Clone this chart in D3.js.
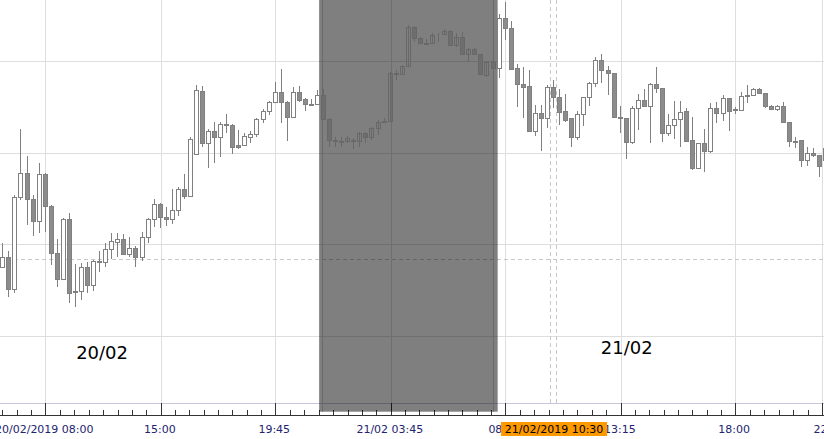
<!DOCTYPE html>
<html>
<head>
<meta charset="utf-8">
<script src="https://cdn.jsdelivr.net/npm/d3@7"></script>
<style>
  body { margin: 0; background: #fff; }
  svg { display: block; font-family: "DejaVu Sans", Verdana, sans-serif; }
</style>
</head>
<body>
<svg id="chart" width="824" height="439"></svg>
<script>
// 15 min candles, 20/02/2019 - 21/02/2019
var open = [
  1.13475,1.13486,1.13451,1.13551,1.13578,1.13549,1.13525,1.13576,1.13541,1.13490,
  1.13462,1.13527,1.13449,1.13449,1.13475,1.13455,1.13481,1.13480,1.13494,1.13502,
  1.13505,1.13489,1.13496,1.13486,1.13508,1.13527,1.13544,1.13529,1.13527,1.13537,
  1.13560,1.13552,1.13598,1.13667,1.13610,1.13623,1.13617,1.13631,1.13630,1.13608,
  1.13608,1.13617,1.13620,1.13637,1.13645,1.13655,1.13666,1.13655,1.13639,1.13666,
  1.13658,1.13653,1.13653,1.13663,1.13637,1.13614,1.13613,1.13613,1.13614,1.13613,
  1.13621,1.13617,1.13627,1.13634,1.13634,1.13687,1.13686,1.13695,1.13737,1.13725,
  1.13720,1.13720,1.13730,1.13730,1.13733,1.13718,1.13726,1.13708,1.13713,1.13708,
  1.13685,1.13699,1.13692,1.13747,1.13736,1.13692,1.13675,1.13673,1.13623,1.13643,
  1.13638,1.13672,1.13661,1.13645,1.13638,1.13617,1.13642,1.13661,1.13676,1.13701,
  1.13690,1.13687,1.13639,1.13638,1.13611,1.13649,1.13657,1.13651,1.13675,1.13670,
  1.13621,1.13630,1.13637,1.13645,1.13614,1.13583,1.13610,1.13602,1.13649,1.13643,
  1.13660,1.13648,1.13646,1.13662,1.13663,1.13669,1.13665,1.13651,1.13648,1.13651,
  1.13633,1.13613,1.13614,1.13592,1.13599,1.13597,1.13592
];
var high = [
  1.13501,1.13492,1.13554,1.13626,1.13596,1.13554,1.13588,1.13578,1.13543,1.13505,
  1.13528,1.13534,1.13478,1.13479,1.13480,1.13482,1.13492,1.13501,1.13512,1.13512,
  1.13511,1.13508,1.13498,1.13513,1.13528,1.13549,1.13545,1.13540,1.13560,1.13562,
  1.13576,1.13617,1.13674,1.13673,1.13626,1.13633,1.13633,1.13642,1.13631,1.13625,
  1.13621,1.13623,1.13638,1.13648,1.13656,1.13677,1.13691,1.13656,1.13672,1.13673,
  1.13660,1.13658,1.13668,1.13669,1.13638,1.13617,1.13617,1.13618,1.13616,1.13622,
  1.13622,1.13628,1.13635,1.13638,1.13688,1.13690,1.13696,1.13739,1.13738,1.13726,
  1.13724,1.13731,1.13731,1.13735,1.13734,1.13731,1.13732,1.13714,1.13714,1.13708,
  1.13700,1.13701,1.13751,1.13765,1.13744,1.13697,1.13693,1.13690,1.13652,1.13652,
  1.13674,1.13679,1.13669,1.13664,1.13638,1.13645,1.13661,1.13677,1.13704,1.13708,
  1.13695,1.13687,1.13651,1.13638,1.13651,1.13664,1.13669,1.13676,1.13693,1.13670,
  1.13642,1.13656,1.13656,1.13649,1.13639,1.13610,1.13626,1.13654,1.13655,1.13663,
  1.13660,1.13650,1.13666,1.13674,1.13670,1.13670,1.13665,1.13652,1.13652,1.13655,
  1.13633,1.13617,1.13614,1.13606,1.13605,1.13597,1.13616
];
var low = [
  1.13474,1.13442,1.13446,1.13548,1.13521,1.13509,1.13512,1.13513,1.13477,1.13453,
  1.13461,1.13435,1.13431,1.13439,1.13446,1.13449,1.13469,1.13475,1.13484,1.13486,
  1.13488,1.13486,1.13475,1.13481,1.13501,1.13519,1.13517,1.13520,1.13522,1.13531,
  1.13549,1.13551,1.13597,1.13606,1.13583,1.13588,1.13595,1.13621,1.13598,1.13604,
  1.13607,1.13610,1.13617,1.13632,1.13641,1.13654,1.13632,1.13613,1.13638,1.13655,
  1.13645,1.13651,1.13652,1.13635,1.13606,1.13606,1.13606,1.13610,1.13604,1.13606,
  1.13610,1.13614,1.13619,1.13632,1.13634,1.13679,1.13686,1.13693,1.13721,1.13720,
  1.13718,1.13719,1.13721,1.13728,1.13717,1.13715,1.13707,1.13699,1.13707,1.13685,
  1.13682,1.13690,1.13681,1.13723,1.13690,1.13650,1.13638,1.13622,1.13618,1.13602,
  1.13627,1.13649,1.13630,1.13633,1.13606,1.13614,1.13629,1.13651,1.13672,1.13676,
  1.13663,1.13638,1.13621,1.13593,1.13609,1.13625,1.13650,1.13610,1.13665,1.13611,
  1.13618,1.13615,1.13606,1.13612,1.13581,1.13582,1.13579,1.13599,1.13632,1.13634,
  1.13623,1.13642,1.13646,1.13654,1.13663,1.13664,1.13649,1.13646,1.13645,1.13632,
  1.13606,1.13605,1.13584,1.13585,1.13595,1.13573,1.13584
];
var close = [
  1.13486,1.13451,1.13551,1.13578,1.13549,1.13525,1.13576,1.13541,1.13490,1.13462,
  1.13527,1.13446,1.13447,1.13475,1.13455,1.13481,1.13480,1.13494,1.13503,1.13505,
  1.13489,1.13496,1.13486,1.13508,1.13527,1.13544,1.13529,1.13527,1.13537,1.13560,
  1.13552,1.13615,1.13668,1.13610,1.13623,1.13617,1.13631,1.13630,1.13606,1.13606,
  1.13618,1.13620,1.13637,1.13645,1.13655,1.13666,1.13655,1.13639,1.13666,1.13657,
  1.13653,1.13652,1.13663,1.13637,1.13614,1.13613,1.13612,1.13616,1.13613,1.13621,
  1.13617,1.13627,1.13633,1.13633,1.13687,1.13686,1.13695,1.13737,1.13725,1.13720,
  1.13719,1.13728,1.13729,1.13733,1.13718,1.13726,1.13708,1.13713,1.13708,1.13686,
  1.13699,1.13692,1.13747,1.13736,1.13691,1.13675,1.13672,1.13623,1.13643,1.13638,
  1.13672,1.13661,1.13644,1.13635,1.13617,1.13642,1.13661,1.13676,1.13701,1.13690,
  1.13687,1.13639,1.13638,1.13611,1.13649,1.13657,1.13651,1.13675,1.13670,1.13621,
  1.13630,1.13637,1.13644,1.13613,1.13583,1.13610,1.13602,1.13649,1.13643,1.13660,
  1.13645,1.13646,1.13662,1.13663,1.13669,1.13665,1.13651,1.13648,1.13651,1.13633,
  1.13613,1.13612,1.13592,1.13599,1.13597,1.13585,1.13605
];

// time axis (candle index of each label)
var tickIdx = [7.1, 26.2, 45.1, 64.2, 83.1, 102.2, 121.1, 135.5];
var tickLabels = ["20/02/2019 08:00", "15:00", "19:45", "21/02 03:45", "08:30", "13:15", "18:00", "22:00"];
var priceLevels = [1.1340, 1.1350, 1.1360, 1.1370, 1.1380];
var dayIdx = [12.2, 98.9];
var dayLabels = ["20/02", "21/02"];
var nightRange = [52.35, 81.85];
var cursorIdx = 91, cursorPrice = 1.13484, cursorLabel = "21/02/2019 10:30";

var W = 824, H = 439, plotBottom = 403, axisY = 415;
var svg = d3.select("#chart");

var x = d3.scaleLinear().domain([0, 136]).range([2.3, 825.4]);
var y = d3.scaleLinear().domain([1.1340, 1.1370]).range([335.5, 61]);
var crisp = function(v){ return Math.round(v) + 0.5; };

var candles = open.map(function(o, i){
  return {i: i, o: o, h: high[i], l: low[i], c: close[i]};
});

// grid
var grid = svg.append("g");
grid.selectAll(".hg").data(priceLevels).enter().append("line")
  .attr("x1", 0).attr("x2", W)
  .attr("y1", function(d){ return crisp(y(d)); })
  .attr("y2", function(d){ return crisp(y(d)); })
  .attr("stroke", "#dedede");
grid.selectAll(".vg").data(tickIdx).enter().append("line")
  .attr("x1", function(d){ return crisp(x(d)); })
  .attr("x2", function(d){ return crisp(x(d)); })
  .attr("y1", 0).attr("y2", plotBottom)
  .attr("stroke", "#dedede");

// crosshair
svg.append("line")
  .attr("x1", 0).attr("x2", W)
  .attr("y1", crisp(y(cursorPrice))).attr("y2", crisp(y(cursorPrice)))
  .attr("stroke", "#c8c8c8").attr("stroke-dasharray", "4,3");
[-2.7, 2.7].forEach(function(off){
  svg.append("line")
    .attr("x1", crisp(x(cursorIdx) + off)).attr("x2", crisp(x(cursorIdx) + off))
    .attr("y1", 0).attr("y2", plotBottom)
    .attr("stroke", "#c8c8c8").attr("stroke-dasharray", "4,3");
});

// axis
svg.append("line").attr("x1", 0).attr("x2", W)
  .attr("y1", plotBottom + 0.5).attr("y2", plotBottom + 0.5).attr("stroke", "#c6c6dc");
svg.append("line").attr("x1", 0).attr("x2", W)
  .attr("y1", axisY + 0.5).attr("y2", axisY + 0.5).attr("stroke", "#333");

var minor = [];
var minorStep = 19 / 8;
for (var k = 1; k <= 3; k++) minor.push(tickIdx[0] - k * minorStep);
for (var t = 0; t < tickIdx.length - 1; t++) {
  var n = Math.round((tickIdx[t + 1] - tickIdx[t]) / minorStep);
  for (var j = 1; j < n; j++) minor.push(tickIdx[t] + j * (tickIdx[t + 1] - tickIdx[t]) / n);
}
svg.selectAll(".minor").data(minor).enter().append("line")
  .attr("x1", function(d){ return crisp(x(d)); })
  .attr("x2", function(d){ return crisp(x(d)); })
  .attr("y1", axisY - 5).attr("y2", axisY)
  .attr("stroke", "#333");
svg.selectAll(".major").data(tickIdx).enter().append("line")
  .attr("x1", function(d){ return crisp(x(d)); })
  .attr("x2", function(d){ return crisp(x(d)); })
  .attr("y1", plotBottom).attr("y2", axisY)
  .attr("stroke", "#333");
// labels sit a hair left of their tick; the last one is pushed past the edge
svg.selectAll(".tl").data(tickIdx).enter().append("text")
  .attr("x", function(d, i){ return x(d) - 1 + (i === tickIdx.length - 1 ? 8 : 0); })
  .attr("y", 433)
  .attr("text-anchor", "middle")
  .attr("font-size", 11)
  .attr("fill", "#232370")
  .text(function(d, i){ return tickLabels[i]; });

// night session shade
svg.append("rect")
  .attr("x", x(nightRange[0])).attr("y", 0)
  .attr("width", x(nightRange[1]) - x(nightRange[0]))
  .attr("height", 411.7)
  .attr("fill", "#000").attr("fill-opacity", 0.5);
[nightRange[0] + 0.5, nightRange[1] - 0.85].forEach(function(d){
  svg.append("line")
    .attr("x1", crisp(x(d))).attr("x2", crisp(x(d)))
    .attr("y1", 0).attr("y2", 411.7)
    .attr("stroke", "#6a6a6a");
});

// candles
var inNight = function(d){ return d.i > nightRange[0] && d.i < nightRange[1]; };
var cg = svg.append("g").selectAll("g").data(candles).enter().append("g");
cg.append("line")
  .attr("x1", function(d){ return Math.round(x(d.i)) + 0.5; })
  .attr("x2", function(d){ return Math.round(x(d.i)) + 0.5; })
  .attr("y1", function(d){ return Math.round(y(d.h)); })
  .attr("y2", function(d){ return Math.round(y(d.l)); })
  .attr("stroke", function(d){ return inNight(d) ? "#686868" : "#808080"; });
cg.append("rect")
  .attr("x", function(d){ return Math.round(x(d.i)) - 1.5; })
  .attr("width", 4)
  .attr("y", function(d){ return Math.round(y(Math.max(d.o, d.c))) + 0.5; })
  .attr("height", function(d){ return Math.max(0, Math.round(y(Math.min(d.o, d.c))) - Math.round(y(Math.max(d.o, d.c)))); })
  .attr("fill", function(d){
    if (d.c >= d.o) return inNight(d) ? "none" : "#fff";
    return inNight(d) ? "#6e6e6e" : "#8c8c8c";
  })
  .attr("stroke", function(d){ return inNight(d) ? "#686868" : "#808080"; });

// day labels
svg.selectAll(".day").data(dayIdx).enter().append("text")
  .attr("x", function(d){ return x(d); })
  .attr("y", function(d, i){ return i === 0 ? 359 : 354; })
  .attr("font-size", 18)
  .attr("fill", "#000")
  .text(function(d, i){ return dayLabels[i]; });

// cursor time label
var cx = x(cursorIdx) + 1;
svg.append("rect")
  .attr("x", cx - 53).attr("y", 422).attr("width", 106).attr("height", 14)
  .attr("fill", "#ff9900");
svg.append("text")
  .attr("x", cx).attr("y", 433)
  .attr("text-anchor", "middle").attr("font-size", 11).attr("fill", "#000")
  .text(cursorLabel);
</script>
</body>
</html>
